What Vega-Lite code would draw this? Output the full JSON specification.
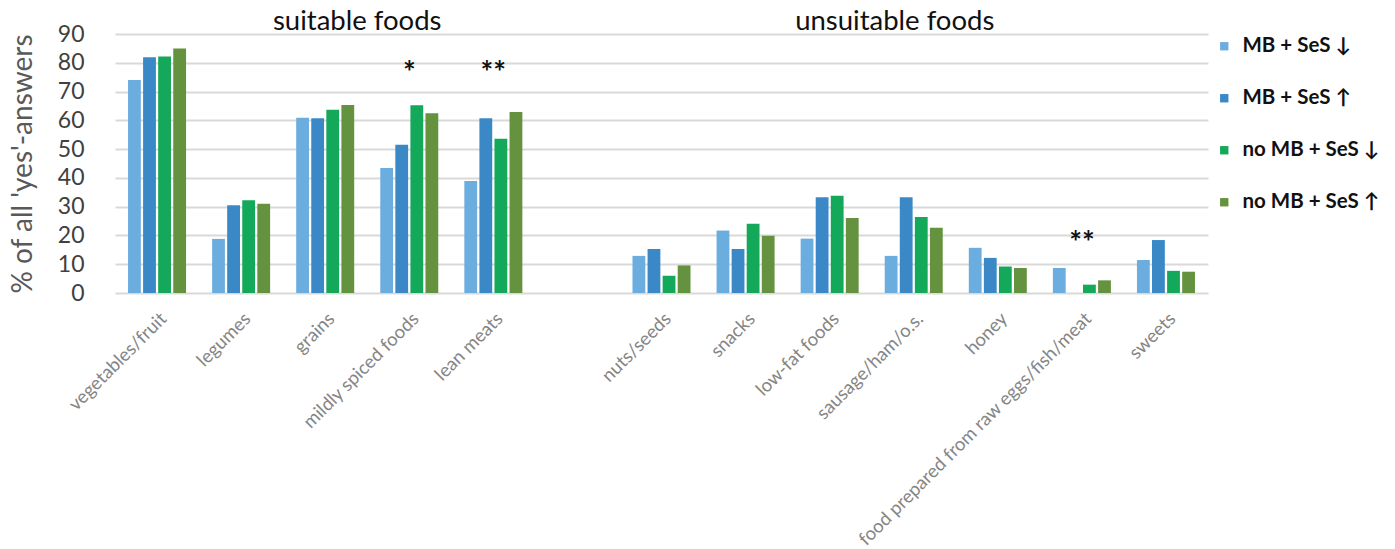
{
  "$schema": "https://vega.github.io/schema/vega-lite/v6.json",
  "autosize": {"type": "none"},
  "padding": {"left": 115, "top": 34, "right": 187, "bottom": 256},
  "width": 1093,
  "height": 259,
  "config": {
    "font": "Lato",
    "view": {"stroke": null},
    "background": "white"
  },
  "datasets": {
    "bars": [
      {"food": "vegetables/fruit", "group": "MB + SeS ↓", "value": 74},
      {"food": "vegetables/fruit", "group": "MB + SeS ↑", "value": 81.9},
      {"food": "vegetables/fruit", "group": "no MB + SeS ↓", "value": 82.2},
      {"food": "vegetables/fruit", "group": "no MB + SeS ↑", "value": 85},
      {"food": "legumes", "group": "MB + SeS ↓", "value": 18.8},
      {"food": "legumes", "group": "MB + SeS ↑", "value": 30.5},
      {"food": "legumes", "group": "no MB + SeS ↓", "value": 32.2},
      {"food": "legumes", "group": "no MB + SeS ↑", "value": 31},
      {"food": "grains", "group": "MB + SeS ↓", "value": 60.9},
      {"food": "grains", "group": "MB + SeS ↑", "value": 60.7},
      {"food": "grains", "group": "no MB + SeS ↓", "value": 63.7},
      {"food": "grains", "group": "no MB + SeS ↑", "value": 65.3},
      {"food": "mildly spiced foods", "group": "MB + SeS ↓", "value": 43.4},
      {"food": "mildly spiced foods", "group": "MB + SeS ↑", "value": 51.5},
      {"food": "mildly spiced foods", "group": "no MB + SeS ↓", "value": 65.2},
      {"food": "mildly spiced foods", "group": "no MB + SeS ↑", "value": 62.5},
      {"food": "lean meats", "group": "MB + SeS ↓", "value": 38.9},
      {"food": "lean meats", "group": "MB + SeS ↑", "value": 60.7},
      {"food": "lean meats", "group": "no MB + SeS ↓", "value": 53.6},
      {"food": "lean meats", "group": "no MB + SeS ↑", "value": 62.9},
      {"food": "nuts/seeds", "group": "MB + SeS ↓", "value": 12.9},
      {"food": "nuts/seeds", "group": "MB + SeS ↑", "value": 15.3},
      {"food": "nuts/seeds", "group": "no MB + SeS ↓", "value": 6.0},
      {"food": "nuts/seeds", "group": "no MB + SeS ↑", "value": 9.6},
      {"food": "snacks", "group": "MB + SeS ↓", "value": 21.7},
      {"food": "snacks", "group": "MB + SeS ↑", "value": 15.3},
      {"food": "snacks", "group": "no MB + SeS ↓", "value": 24.1},
      {"food": "snacks", "group": "no MB + SeS ↑", "value": 19.9},
      {"food": "low-fat foods", "group": "MB + SeS ↓", "value": 18.9},
      {"food": "low-fat foods", "group": "MB + SeS ↑", "value": 33.3},
      {"food": "low-fat foods", "group": "no MB + SeS ↓", "value": 33.8},
      {"food": "low-fat foods", "group": "no MB + SeS ↑", "value": 26.1},
      {"food": "sausage/ham/o.s.", "group": "MB + SeS ↓", "value": 12.9},
      {"food": "sausage/ham/o.s.", "group": "MB + SeS ↑", "value": 33.3},
      {"food": "sausage/ham/o.s.", "group": "no MB + SeS ↓", "value": 26.4},
      {"food": "sausage/ham/o.s.", "group": "no MB + SeS ↑", "value": 22.7},
      {"food": "honey", "group": "MB + SeS ↓", "value": 15.7},
      {"food": "honey", "group": "MB + SeS ↑", "value": 12.2},
      {"food": "honey", "group": "no MB + SeS ↓", "value": 9.2},
      {"food": "honey", "group": "no MB + SeS ↑", "value": 8.7},
      {"food": "food prepared from raw eggs/fish/meat", "group": "MB + SeS ↓", "value": 8.7},
      {"food": "food prepared from raw eggs/fish/meat", "group": "MB + SeS ↑", "value": 0},
      {"food": "food prepared from raw eggs/fish/meat", "group": "no MB + SeS ↓", "value": 2.9},
      {"food": "food prepared from raw eggs/fish/meat", "group": "no MB + SeS ↑", "value": 4.4},
      {"food": "sweets", "group": "MB + SeS ↓", "value": 11.5},
      {"food": "sweets", "group": "MB + SeS ↑", "value": 18.4},
      {"food": "sweets", "group": "no MB + SeS ↓", "value": 7.7},
      {"food": "sweets", "group": "no MB + SeS ↑", "value": 7.4}
    ],
    "stars": [
      {"food": "mildly spiced foods", "label": "*", "value": 76},
      {"food": "lean meats", "label": "**", "value": 76},
      {"food": "food prepared from raw eggs/fish/meat", "label": "**", "value": 17}
    ]
  },
  "encoding": {
    "x": {
      "field": "food",
      "type": "nominal",
      "scale": {
        "domain": ["vegetables/fruit", "legumes", "grains", "mildly spiced foods", "lean meats", " ", "nuts/seeds", "snacks", "low-fat foods", "sausage/ham/o.s.", "honey", "food prepared from raw eggs/fish/meat", "sweets"],
        "paddingInner": 0.31,
        "paddingOuter": 0.155
      },
      "axis": {
        "title": null,
        "labelAngle": -45,
        "labelFontSize": 18.5,
        "labelColor": "#858585",
        "labelPadding": 16,
        "ticks": false,
        "domain": false,
        "labelLimit": 400
      }
    },
    "y": {
      "field": "value",
      "type": "quantitative",
      "scale": {"domain": [0, 90], "nice": false},
      "axis": {
        "title": "% of all 'yes'-answers",
        "titleFontSize": 28,
        "titleFontWeight": "normal",
        "titleColor": "#595959",
        "titlePadding": 20,
        "values": [0, 10, 20, 30, 40, 50, 60, 70, 80, 90],
        "labelOverlap": false,
        "labelFontSize": 23,
        "labelColor": "#404040",
        "labelPadding": 31,
        "ticks": false,
        "domain": false,
        "gridColor": "#d9d9d9",
        "gridWidth": 2
      }
    }
  },
  "layer": [
    {
      "data": {"name": "bars"},
      "mark": {"type": "bar"},
      "encoding": {
        "xOffset": {
          "field": "group",
          "type": "nominal",
          "scale": {"domain": ["MB + SeS ↓", "MB + SeS ↑", "no MB + SeS ↓", "no MB + SeS ↑"], "paddingInner": 0.15, "paddingOuter": 0}
        },
        "color": {
          "field": "group",
          "type": "nominal",
          "scale": {
            "domain": ["MB + SeS ↓", "MB + SeS ↑", "no MB + SeS ↓", "no MB + SeS ↑"],
            "range": ["#6cade0", "#3a88c6", "#14a85a", "#65923f"]
          },
          "legend": {
            "title": null,
            "orient": "none",
            "legendX": 1099,
            "legendY": 2,
            "symbolType": "square",
            "symbolSize": 70,
            "symbolStrokeWidth": 0,
            "labelFontSize": 20.5,
            "labelFontWeight": "bold",
            "labelColor": "#111111",
            "rowPadding": 31,
            "labelOffset": 8,
            "labelLimit": 300
          }
        }
      }
    },
    {
      "data": {"name": "stars"},
      "mark": {"type": "text", "fontSize": 30, "fontWeight": "bold", "color": "#111111", "baseline": "middle"},
      "encoding": {
        "text": {"field": "label"}
      }
    },
    {
      "data": {"values": [{"food": "grains", "label": "suitable foods", "value": 94}]},
      "mark": {"type": "text", "fontSize": 27.5, "color": "#111111", "baseline": "middle", "dx": 32},
      "encoding": {
        "text": {"field": "label"}
      }
    },
    {
      "data": {"values": [{"food": "sausage/ham/o.s.", "label": "unsuitable foods", "value": 94}]},
      "mark": {"type": "text", "fontSize": 27.5, "color": "#111111", "baseline": "middle", "dx": -19},
      "encoding": {
        "text": {"field": "label"}
      }
    }
  ]
}
